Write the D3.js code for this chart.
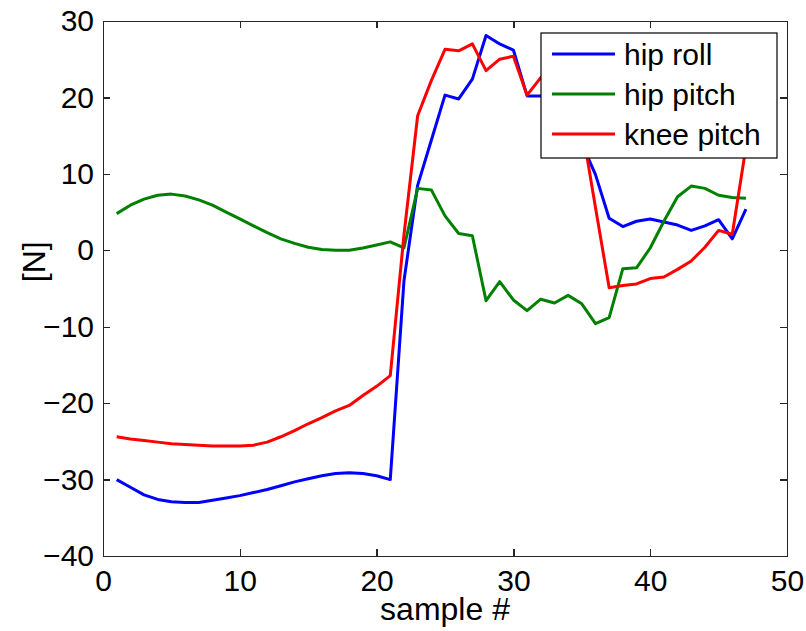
<!DOCTYPE html>
<html>
<head>
<meta charset="utf-8">
<script src="https://cdn.jsdelivr.net/npm/d3@7"></script>
<style>
  html, body { margin: 0; padding: 0; background: #fff; }
  text { font-family: Arial, "Liberation Sans", Helvetica, sans-serif; fill: #000; }
</style>
</head>
<body>
<div id="chart"></div>
<script>
const samples = [1, 2, 3, 4, 5, 6, 7, 8, 9, 10, 11, 12, 13, 14, 15, 16, 17, 18, 19, 20,
  21, 22, 23, 24, 25, 26, 27, 28, 29, 30, 31, 32, 33, 34, 35, 36, 37, 38, 39, 40,
  41, 42, 43, 44, 45, 46, 47]

const hipRoll = [-30.0, -31.0, -32.0, -32.6, -32.9, -33.0, -33.0, -32.7, -32.4, -32.1,
  -31.7, -31.3, -30.8, -30.3, -29.9, -29.5, -29.2, -29.1, -29.2, -29.5,
  -30.0, -4.0, 8.5, 14.4, 20.3, 19.8, 22.4, 28.1, 27.0, 26.2,
  20.2, 20.2, 20.5, 19.0, 14.0, 9.9, 4.2, 3.1, 3.8, 4.1,
  3.7, 3.3, 2.6, 3.2, 4.0, 1.5, 5.4]

const hipPitch = [4.8, 5.9, 6.7, 7.2, 7.35, 7.1, 6.6, 5.9, 5.0, 4.1,
  3.2, 2.3, 1.5, 0.9, 0.4, 0.1, 0.0, 0.0, 0.3, 0.7,
  1.1, 0.3, 8.1, 7.9, 4.5, 2.2, 1.9, -6.6, -4.1, -6.5,
  -7.9, -6.4, -6.9, -5.9, -7.0, -9.6, -8.8, -2.4, -2.3, 0.3,
  3.8, 7.0, 8.4, 8.1, 7.2, 6.9, 6.8]

const kneePitch = [-24.4, -24.7, -24.9, -25.1, -25.3, -25.4, -25.5, -25.6, -25.6, -25.6,
  -25.5, -25.1, -24.4, -23.6, -22.7, -21.9, -21.0, -20.3, -19.0, -17.8,
  -16.4, 2.0, 17.6, 22.2, 26.3, 26.1, 27.0, 23.5, 25.0, 25.4,
  20.3, 22.6, 22.0, 20.0, 16.3, 5.6, -4.9, -4.6, -4.4, -3.7,
  -3.5, -2.5, -1.4, 0.4, 2.6, 2.1, 13.5]

const seriesNames = ['hip roll', 'hip pitch', 'knee pitch']
const xTicks = [0, 10, 20, 30, 40, 50]
const yTicks = [-40, -30, -20, -10, 0, 10, 20, 30]

const series = [
  { name: seriesNames[0], values: hipRoll, color: '#0000ff' },
  { name: seriesNames[1], values: hipPitch, color: '#008000' },
  { name: seriesNames[2], values: kneePitch, color: '#ff0000' }
]

let margin = { top: 21, right: 19, bottom: 75, left: 103 }
let width = 806 - margin.left - margin.right
let height = 631 - margin.top - margin.bottom

let svg = d3.select('#chart')
  .append('svg')
  .attr('width', 806)
  .attr('height', 631)
  .append('g')
  .attr('transform', `translate(${margin.left}, ${margin.top})`)

let xScale = d3.scaleLinear().domain([0, 50]).range([0, width])
let yScale = d3.scaleLinear().domain([-40, 30]).range([height, 0])

const tickLen = 7
const fontSize = 30

// axes: bottom/left carry labels, top/right only ticks (matlab box)
let xAxis = d3.axisBottom(xScale).tickValues(xTicks).tickSize(-tickLen).tickPadding(14).tickFormat(d3.format('d'))
let yAxis = d3.axisLeft(yScale).tickValues(yTicks).tickSize(-tickLen).tickPadding(9).tickFormat(d3.format('d'))

svg.append('g')
  .attr('class', 'axis')
  .attr('transform', `translate(0, ${height})`)
  .call(xAxis)

svg.append('g')
  .attr('class', 'axis')
  .call(yAxis)

svg.append('g')
  .attr('class', 'axis')
  .call(d3.axisTop(xScale).tickValues(xTicks).tickSize(-tickLen).tickFormat(''))

svg.append('g')
  .attr('class', 'axis')
  .attr('transform', `translate(${width}, 0)`)
  .call(d3.axisRight(yScale).tickValues(yTicks).tickSize(-tickLen).tickFormat(''))

svg.selectAll('.axis path, .axis line')
  .style('stroke', '#262626')
  .style('stroke-width', 1.4)
  .style('shape-rendering', 'crispEdges')

svg.selectAll('.axis text')
  .style('font-size', fontSize + 'px')
  .style('fill', '#000')
  .style('font-family', 'Arial, "Liberation Sans", sans-serif')

// lines
let line = d3.line()
  .x((d, i) => xScale(samples[i]))
  .y(d => yScale(d))

svg.selectAll('.series')
  .data(series)
  .enter()
  .append('path')
  .attr('class', 'series')
  .attr('d', d => line(d.values))
  .style('fill', 'none')
  .style('stroke', d => d.color)
  .style('stroke-width', 3)
  .style('stroke-linejoin', 'round')

// legend
let legend = svg.append('g')
  .attr('transform', `translate(${xScale(50) - 246}, ${yScale(30) + 12})`)

legend.append('rect')
  .attr('width', 236)
  .attr('height', 125)
  .style('fill', '#fff')
  .style('stroke', '#000')
  .style('stroke-width', 1.2)

let rows = legend.selectAll('.row')
  .data(series)
  .enter()
  .append('g')
  .attr('transform', (d, i) => `translate(0, ${21 + i * 40})`)

rows.append('line')
  .attr('x1', 11)
  .attr('x2', 74)
  .style('stroke', d => d.color)
  .style('stroke-width', 3)

rows.append('text')
  .attr('x', 83)
  .attr('dy', '0.36em')
  .style('font-size', fontSize + 'px')
  .text(d => d.name)

// x label
svg.append('text')
  .attr('transform', `translate(${width / 2}, ${height + 64})`)
  .style('text-anchor', 'middle')
  .style('font-size', '32px')
  .text('sample #')

// y label
svg.append('text')
  .attr('transform', 'rotate(-90)')
  .attr('x', 0 - yScale(-1.5))
  .attr('y', 0 - margin.left + 45)
  .style('text-anchor', 'middle')
  .style('font-size', '32px')
  .text('[N]')
</script>
</body>
</html>
